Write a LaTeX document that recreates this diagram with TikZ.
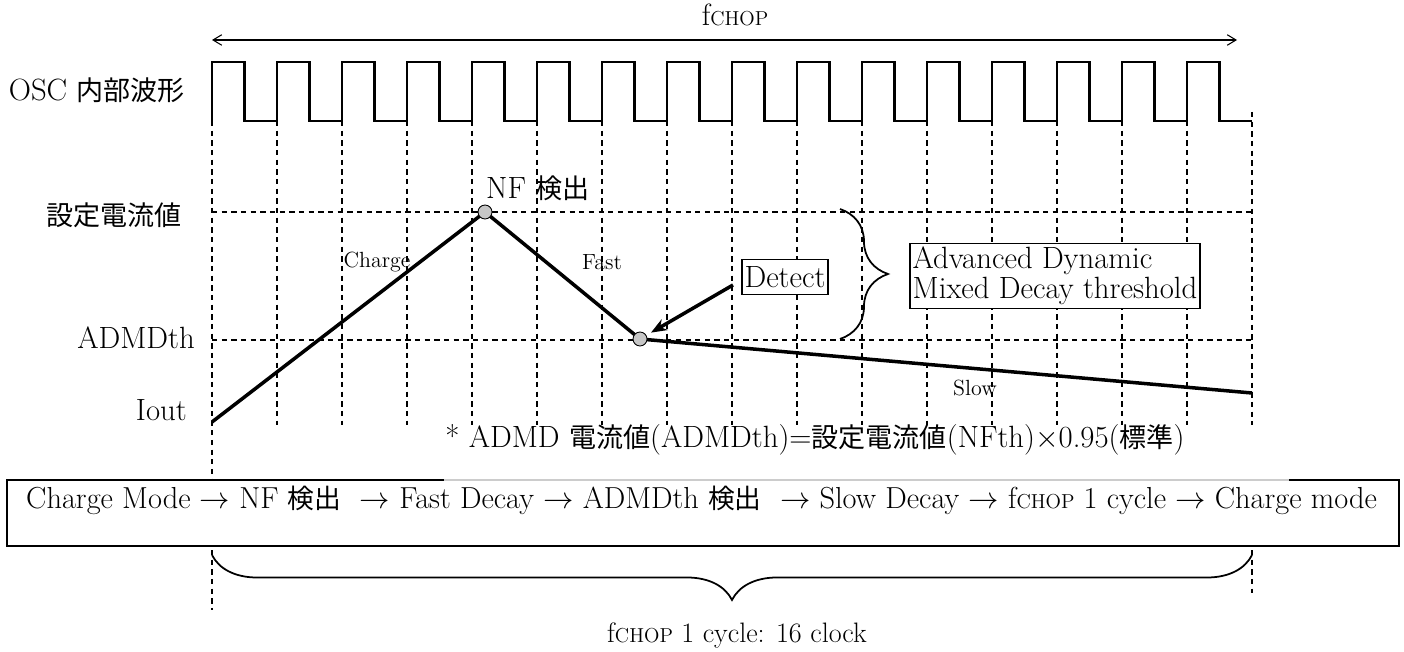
\documentclass[tikz,border=0pt]{standalone}
\usepackage{fontspec}
\newfontfamily\jpfont[Scale=0.88]{Noto Sans CJK JP}
\newcommand{\ja}[1]{{\jpfont #1}}
\newcommand{\chopsub}{{\fontsize{11.5}{12}\selectfont CHOP}}
\usetikzlibrary{arrows.meta, decorations.pathreplacing}

\begin{document}
\begin{tikzpicture}[
    x=0.02cm, y=-0.02cm,
    >=Stealth,
    % Styles for grid, waveform and current
    grid/.style={dashed, dash pattern=on 3pt off 2.5pt, line width=0.6pt},
    wave/.style={line width=1.6pt, line join=miter},
    iout/.style={line width=2pt},
    dot/.style={circle, draw, line width=0.5pt, fill=gray!45, minimum size=0.28cm, inner sep=0pt},
    lbl/.style={font=\fontsize{17.5}{20}\selectfont},
    tiny/.style={font=\fontsize{12.5}{14}\selectfont},
    tagbox/.style={draw, fill=white, line width=0.8pt, inner xsep=1.5pt, inner ysep=4pt, lbl},
    brc/.style={decorate, decoration={brace, amplitude=#1}, line width=1pt}
]
\useasboundingbox (0,0) rectangle (1404,652);

% --- Clock period arrow ---
\draw[{Straight Barb[length=5pt,width=6pt]}-{Straight Barb[length=5pt,width=6pt]}, line width=0.6pt]
    (212,40) -- (1237,40);
\node[lbl] (fchop) at (735,15) {f\chopsub};

% --- OSC waveform (16 clocks) ---
\draw[wave] (212,121)
    \foreach \k in {0,...,15}{ -- ++(0,-59) -- ++(32.5,0) -- ++(0,59) -- ++(32.5,0) };

% --- Grid ---
\foreach \k in {1,...,15}
    \draw[grid] (212+65*\k,121) -- (212+65*\k,425);
\draw[grid] (212,121) -- (212,480);
\draw[grid] (1252,112) -- (1252,425);
\draw[grid] (212,212) -- (1252,212);
\draw[grid] (212,340) -- (1252,340);

% --- Row labels ---
\node[lbl, anchor=east] (osc) at (191,90) {OSC \ja{内部波形}};
\node[lbl, anchor=east] (iset) at (188,215) {\ja{設定電流値}};
\node[lbl, anchor=east] (admd) at (201,338) {ADMDth};
\node[lbl, anchor=east] (iout) at (193,410) {Iout};

% --- Coil current: charge, fast decay, slow decay ---
\coordinate (c0) at (212,422);
\coordinate (c1) at (485,212);
\coordinate (c2) at (640,339);
\coordinate (c3) at (1252,393);
\draw[iout] (c0) -- (c1) -- (c2) -- (c3);
\node[dot] (nfdot) at (c1) {};
\node[dot] (thdot) at (c2) {};

\node[lbl, anchor=west] (nf) at (480,188) {NF \ja{検出}};
\node[tiny] (chg) at (377,262) {Charge};
\node[tiny] (fast) at (602,262) {Fast};
\node[tiny] (slow) at (975,388) {Slow};

% --- Detect callout ---
\node[tagbox] (detect) at (785,277) {Detect};
\coordinate (dfrom) at (733,285);
\draw[-{Stealth[length=9pt,width=7pt]}, line width=2pt, shorten >=3pt] (dfrom) -- (thdot);

% --- Threshold brace ---
\draw[brc=0.96cm] (840,209) -- (840,339);
\node[tagbox, align=left, inner ysep=2pt, font=\fontsize{17.5}{17}\selectfont] (adv) at (1055,276)
    {Advanced Dynamic\\Mixed Decay threshold};

% --- Note ---
\node[lbl] (note) at (815,440)
    {* ADMD \ja{電流値}(ADMDth)=\ja{設定電流値}(NFth)$\times$0.95(\ja{標準})};

% --- Sequence box ---
\draw[line width=0.8pt] (7,480) rectangle (1399,546);
\draw[gray!40, line width=0.8pt] (444,480) -- (1289,480);
\node[lbl, anchor=west, font=\fontsize{17.3}{20}\selectfont] (flow) at (20,500)
    {Charge Mode $\rightarrow$ NF \ja{検出} \ $\rightarrow$ Fast Decay $\rightarrow$ ADMDth \ja{検出} \ $\rightarrow$ Slow Decay $\rightarrow$ f\chopsub{} 1 cycle $\rightarrow$ Charge mode};

% --- One chopping cycle ---
\draw[grid] (212,550) -- (212,610);
\draw[grid] (1252,550) -- (1252,593);
\draw[brc=0.9cm] (1252,555) -- (212,555);
\node[lbl, font=\fontsize{16}{18}\selectfont] (cyc) at (737,635) {f\chopsub{} 1 cycle: 16 clock};

\end{tikzpicture}
\end{document}
